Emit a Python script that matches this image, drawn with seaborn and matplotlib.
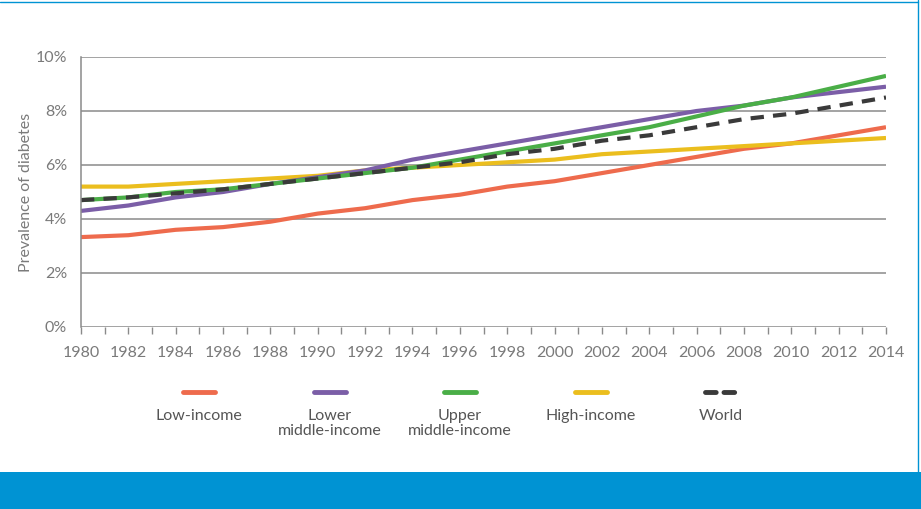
import matplotlib
matplotlib.use("Agg")
import matplotlib.pyplot as plt
from matplotlib.lines import Line2D
from matplotlib.patches import Rectangle
import seaborn as sns
import pandas as pd
import numpy as np

years = list(range(1980, 2015, 2))
low_income = [3.33, 3.4, 3.6, 3.7, 3.9, 4.2, 4.4, 4.7, 4.9, 5.2, 5.4, 5.7, 6.0, 6.3, 6.6, 6.8, 7.1, 7.4]
lower_middle = [4.3, 4.5, 4.8, 5.0, 5.3, 5.55, 5.8, 6.2, 6.5, 6.8, 7.1, 7.4, 7.7, 8.0, 8.2, 8.5, 8.7, 8.9]
upper_middle = [4.7, 4.8, 5.0, 5.1, 5.3, 5.5, 5.7, 5.9, 6.2, 6.5, 6.8, 7.1, 7.4, 7.8, 8.2, 8.5, 8.9, 9.3]
high_income = [5.2, 5.2, 5.3, 5.4, 5.5, 5.6, 5.8, 5.9, 6.0, 6.1, 6.2, 6.4, 6.5, 6.6, 6.7, 6.8, 6.9, 7.0]
world = [4.7, 4.8, 4.95, 5.1, 5.3, 5.5, 5.7, 5.9, 6.1, 6.4, 6.6, 6.9, 7.1, 7.4, 7.7, 7.9, 8.2, 8.5]

series_names = ["Low-income", "Lower\nmiddle-income", "Upper\nmiddle-income", "High-income", "World"]
series_values = [low_income, lower_middle, upper_middle, high_income, world]
colors = ["#EE6B4D", "#7B5EA7", "#4AAE47", "#EBBE1E", "#3A3A3A"]

sns.set_style("white")
plt.rcParams['font.family'] = ['Lato', 'DejaVu Sans']
gray = "#7a7a7a"

fig = plt.figure(figsize=(9.21, 5.09), dpi=100)
ax = fig.add_axes([81 / 921, 1 - 327 / 509, 805 / 921, 270 / 509])

# draw order so the dashed world line sits on top
order = [0, 3, 1, 2, 4]
for i in order:
    df = pd.DataFrame({"year": years, "value": series_values[i]})
    sns.lineplot(data=df, x="year", y="value", ax=ax, color=colors[i], lw=3,
                 solid_capstyle="butt", legend=False)
    if i == 4:
        ax.lines[-1].set_dashes((3.2, 2.2))

ax.set_xlim(1980, 2014)
ax.set_ylim(0, 10)
ax.set_yticks(np.arange(0, 11, 2))
ax.set_yticklabels([f"{v}%" for v in range(0, 11, 2)])
ax.set_xticks(years)
ax.set_xticks(range(1981, 2014, 2), minor=True)
ax.set_xticklabels([str(y) for y in years])
ax.grid(axis="y", color="#8a8a8a", lw=1.1)
ax.set_axisbelow(True)
for s in ["top", "right", "bottom"]:
    ax.spines[s].set_visible(False)
ax.spines["left"].set_color("#8a8a8a")
ax.spines["left"].set_linewidth(1.1)
ax.tick_params(axis="x", which="both", direction="out", length=5, color="#8a8a8a",
               width=1, labelcolor=gray, labelsize=11.5, pad=9, bottom=True)
ax.tick_params(axis="y", length=0, labelcolor=gray, labelsize=11.5, pad=10)
ax.set_xlabel("")
ax.set_ylabel("Prevalence of diabetes", color=gray, fontsize=11.5, labelpad=2)

# legend below: short line above each centred label
leg_x0, leg_dx = 199, 130.5
for k, (name, c) in enumerate(zip(series_names, colors)):
    cx = (leg_x0 + k * leg_dx) / 921
    ln = Line2D([cx - 16 / 921, cx + 16 / 921], [1 - 392 / 509] * 2, color=c, lw=3.5,
                solid_capstyle="round", dash_capstyle="round", transform=fig.transFigure)
    if k == 4:
        ln.set_dashes((2.2, 1.6))
    fig.add_artist(ln)
    fig.text(cx, 1 - 409 / 509, name, ha="center", va="top", color="#555555",
             fontsize=11.5, linespacing=1.1)

# blue band at bottom and thin frame
fig.add_artist(Rectangle((0, 0), 1, 37 / 509, transform=fig.transFigure,
                         color="#0093D3", lw=0))
fig.add_artist(Line2D([918 / 921, 918 / 921], [37 / 509, 1], color="#0093D3", lw=1,
                      transform=fig.transFigure))
fig.add_artist(Line2D([0, 918 / 921], [1 - 1.5 / 509] * 2, color="#0093D3", lw=1,
                      transform=fig.transFigure))

fig.savefig("out.png", dpi=100)
